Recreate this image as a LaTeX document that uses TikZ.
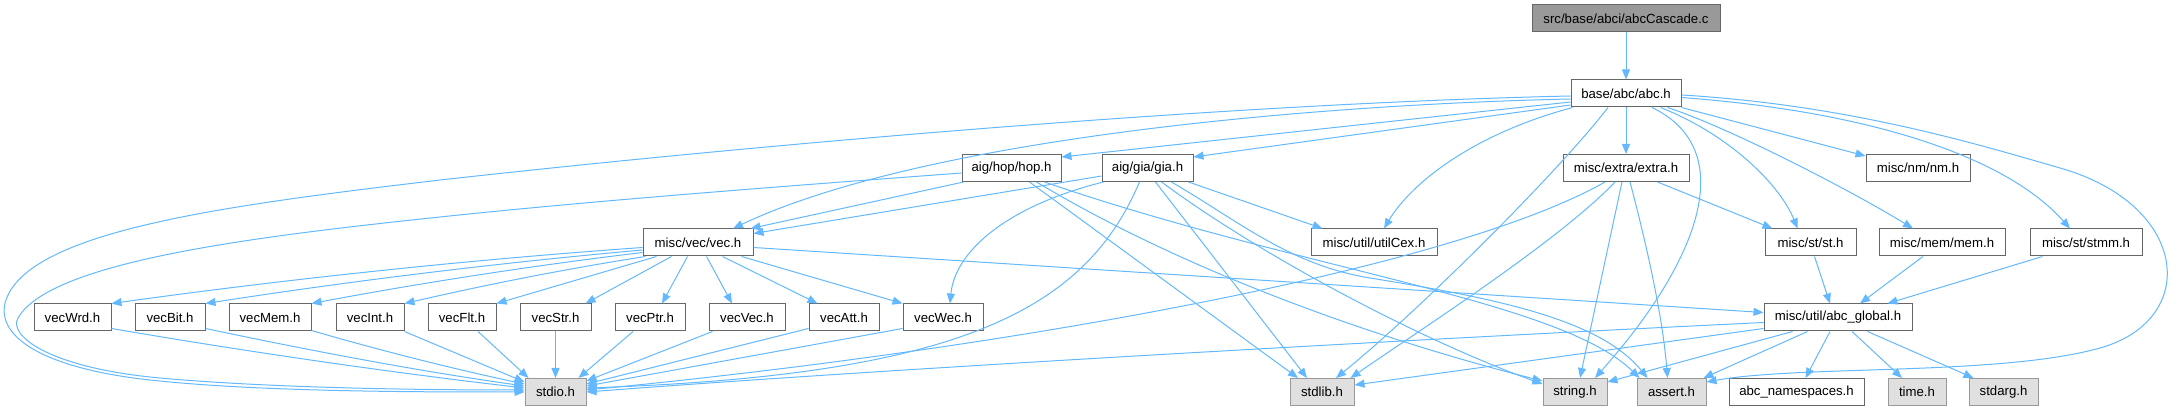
\documentclass[tikz,border=0pt]{standalone}
\usepackage{fontspec}
\setmainfont{Liberation Sans}
\usetikzlibrary{arrows.meta,calc}
\definecolor{eblue}{HTML}{63B8FF}
\definecolor{nbord}{HTML}{666666}
\definecolor{sbord}{HTML}{999999}
\definecolor{sfill}{HTML}{E0E0E0}
\definecolor{rfill}{HTML}{999999}
\begin{document}
\begin{tikzpicture}[x=1pt,y=-1pt,
  nd/.style={draw=nbord, fill=white, line width=1pt, minimum height=27pt, inner sep=0pt, font=\fontsize{13.2}{15}\selectfont, text=black},
  sysnd/.style={nd, draw=sbord, fill=sfill},
  rootnd/.style={nd, fill=rfill},
  dep/.style={draw=eblue, line width=1pt, -{Triangle[length=10pt,width=8pt]}}]
\useasboundingbox (0,0) rectangle (2179,411);
% row 1
\node[rootnd, minimum width=188pt] (top) at (1626,18.5) {src/base/abci/abcCascade.c};
% row 2
\node[nd, minimum width=110pt] (abc) at (1626,93.5) {base/abc/abc.h};
% row 3
\node[nd, minimum width=99pt] (hop) at (1011.5,168) {aig/hop/hop.h};
\node[nd, minimum width=91pt] (gia) at (1147.5,168) {aig/gia/gia.h};
\node[nd, minimum width=126pt] (extra) at (1626,168) {misc/extra/extra.h};
\node[nd, minimum width=104pt] (nm) at (1918,168) {misc/nm/nm.h};
% row 4
\node[nd, minimum width=110pt] (vec) at (698,242.5) {misc/vec/vec.h};
\node[nd, minimum width=126pt] (utilCex) at (1374,242.5) {misc/util/utilCex.h};
\node[nd, minimum width=91pt] (st) at (1810.5,242.5) {misc/st/st.h};
\node[nd, minimum width=126pt] (mem) at (1942,242.5) {misc/mem/mem.h};
\node[nd, minimum width=112pt] (stmm) at (2086,242.5) {misc/st/stmm.h};
% row 5
\node[nd, minimum width=77pt] (vecWrd) at (72.5,317.5) {vecWrd.h};
\node[nd, minimum width=70pt] (vecBit) at (170,317.5) {vecBit.h};
\node[nd, minimum width=82pt] (vecMem) at (270,317.5) {vecMem.h};
\node[nd, minimum width=68pt] (vecInt) at (370,317.5) {vecInt.h};
\node[nd, minimum width=68pt] (vecFlt) at (462,317.5) {vecFlt.h};
\node[nd, minimum width=71pt] (vecStr) at (555.5,317.5) {vecStr.h};
\node[nd, minimum width=70pt] (vecPtr) at (650,317.5) {vecPtr.h};
\node[nd, minimum width=76pt] (vecVec) at (747,317.5) {vecVec.h};
\node[nd, minimum width=70pt] (vecAtt) at (844,317.5) {vecAtt.h};
\node[nd, minimum width=80pt] (vecWec) at (943,317.5) {vecWec.h};
\node[nd, minimum width=148pt] (glob) at (1838,317.5) {misc/util/abc\_global.h};
% row 6
\node[sysnd, minimum width=61pt] (stdio) at (555.5,392) {stdio.h};
\node[sysnd, minimum width=64pt] (stdlib) at (1322,392) {stdlib.h};
\node[sysnd, minimum width=64pt] (string) at (1575,392) {string.h};
\node[sysnd, minimum width=69pt] (assert) at (1671.5,392) {assert.h};
\node[nd, minimum width=135pt] (ns) at (1796.5,392) {abc\_namespaces.h};
\node[sysnd, minimum width=58pt] (time) at (1917,392) {time.h};
\node[sysnd, minimum width=69pt] (stdarg) at (2003.5,392) {stdarg.h};

% edges
\draw[dep] (top) -- (abc);
\draw[dep] ($(abc.west)+(0,2.5)$) .. controls (1250,103) and (800,140) .. (440,180) .. controls (230,205) and (30,230) .. (6,300) .. controls (-6,335) and (40,368) .. (150,380) .. controls (260,392) and (420,392) .. (stdio.west);
\draw[dep] ($(hop.west)+(0,5)$) .. controls (800,185) and (600,200) .. (440,217) .. controls (250,237) and (50,262) .. (18,318) .. controls (8,336) and (50,368) .. (160,378) .. controls (270,388) and (420,390) .. ($(stdio.west)+(0,-2)$);
\draw[dep] ($(abc.west)+(0,5.5)$) .. controls (1300,105) and (920,140) .. ($(vec.north)+(35,0)$);
\draw[dep] ($(hop.south west)+(2,0)$) -- ($(vec.north east)+(-3,0)$);
\draw[dep] ($(gia.west)+(0,8)$) -- ($(vec.east)+(0,-9)$);
\draw[dep] ($(abc.west)+(0,8.5)$) -- ($(hop.north east)+(0,3)$);
\draw[dep] ($(abc.west)+(0,11.5)$) -- ($(gia.north east)+(0,3)$);
\draw[dep] ($(abc.south west)+(2,0)$) .. controls (1470,135) and (1410,185) .. ($(utilCex.north)+(10,0)$);
\draw[dep] ($(abc.south)+(-18,0)$) .. controls (1560,170) and (1420,310) .. ($(stdlib.north)+(14,0)$);
\draw[dep] (abc) -- (extra);
\draw[dep] ($(abc.south)+(26,0)$) .. controls (1740,150) and (1700,260) .. ($(string.north)+(20,0)$);
\draw[dep] ($(abc.south east)+(-21,0)$) .. controls (1730,135) and (1780,185) .. ($(st.north)+(-13,0)$);
\draw[dep] ($(abc.south east)+(-14,0)$) .. controls (1730,128) and (1850,190) .. ($(mem.north)+(-29,0)$);
\draw[dep] (abc.south east) -- ($(nm.north west)+(0,2)$);
\draw[dep] ($(abc.east)+(0,4)$) .. controls (1850,110) and (2000,150) .. ($(stmm.north)+(-16,0)$);
\draw[dep] ($(abc.east)+(0,1.5)$) .. controls (1850,105) and (1980,145) .. (2060,168) .. controls (2190,205) and (2200,320) .. (2100,348) .. controls (2000,376) and (1800,365) .. ($(assert.east)+(0,-10)$);
% extra
\draw[dep] ($(extra.south)+(-21,0)$) .. controls (1450,270) and (1000,350) .. ($(stdio.east)+(0,-2)$);
\draw[dep] ($(extra.south)+(-11,0)$) .. controls (1560,240) and (1420,330) .. ($(stdlib.north east)+(-4,0)$);
\draw[dep] ($(extra.south)+(-4,0)$) -- ($(string.north)+(5,0)$);
\draw[dep] ($(extra.south)+(4,0)$) .. controls (1648,250) and (1663,320) .. ($(assert.north)+(-4,0)$);
\draw[dep] ($(extra.south east)+(-32,0)$) -- ($(st.north west)+(8,0)$);
% gia
\draw[dep] ($(gia.south)+(-8,0)$) .. controls (1085,310) and (960,375) .. ($(stdio.east)+(0,-4)$);
\draw[dep] ($(gia.south west)+(2,0)$) .. controls (1010,205) and (955,250) .. ($(vecWec.north)+(7,0)$);
\draw[dep] ($(gia.south)+(8,0)$) -- ($(stdlib.north)+(-15,0)$);
\draw[dep] ($(gia.south)+(14,0)$) .. controls (1260,255) and (1420,340) .. ($(string.west)+(0,-8)$);
\draw[dep] ($(gia.south)+(24,0)$) .. controls (1240,222) and (1290,265) .. (1370,278) .. controls (1500,299) and (1600,320) .. ($(assert.north west)+(11,0)$);
\draw[dep] ($(gia.south east)+(-5,0)$) -- ($(utilCex.north west)+(12,0)$);
% hop
\draw[dep] ($(hop.south)+(18,0)$) -- ($(stdlib.north)+(-24,0)$);
\draw[dep] ($(hop.south)+(25,0)$) .. controls (1200,280) and (1400,345) .. ($(string.west)+(0,-11)$);
\draw[dep] ($(hop.south)+(33,0)$) .. controls (1300,270) and (1560,300) .. ($(assert.north west)+(3,0)$);
% vec
\draw[dep] ($(vec.west)+(0,5)$) .. controls (466,260) and (288,279) .. (vecWrd.north east);
\draw[dep] ($(vec.west)+(0,7.5)$) .. controls (497,263) and (351,281) .. (vecBit.north east);
\draw[dep] ($(vec.west)+(0,10)$) .. controls (532,265.7) and (422,282.8) .. (vecMem.north east);
\draw[dep] ($(vec.south west)+(3,0)$) .. controls (565,269) and (485,285) .. (vecInt.north east);
\draw[dep] ($(vec.south west)+(14,0)$) -- (vecFlt.north east);
\draw[dep] ($(vec.south west)+(29,0)$) -- ($(vecStr.north east)+(-6,0)$);
\draw[dep] ($(vec.south west)+(45,0)$) -- ($(vecPtr.north)+(12,0)$);
\draw[dep] ($(vec.south west)+(64,0)$) -- ($(vecVec.north)+(-15,0)$);
\draw[dep] ($(vec.south west)+(80,0)$) -- ($(vecAtt.north west)+(9,0)$);
\draw[dep] ($(vec.south west)+(99,0)$) -- (vecWec.north west);
\draw[dep] ($(vec.east)+(0,5)$) -- ($(glob.west)+(0,-5)$);
% vecX -> stdio
\draw[dep] ($(vecWrd.south east)+(0,-3)$) .. controls (249,352) and (387,372) .. ($(stdio.west)+(0,-4)$);
\draw[dep] ($(vecBit.south east)+(0,-3)$) .. controls (312,351) and (418,371) .. ($(stdio.west)+(0,-6)$);
\draw[dep] ($(vecMem.south east)+(0,-1)$) .. controls (382,351) and (454,369) .. ($(stdio.west)+(0,-8)$);
\draw[dep] ($(vecInt.south east)+(0,0)$) -- ($(stdio.west)+(0,-10)$);
\draw[dep] ($(vecFlt.south)+(16,0)$) -- ($(stdio.north west)+(4,0)$);
\draw[dep] (vecStr) -- (stdio);
\draw[dep] ($(vecPtr.south)+(-17,0)$) -- ($(stdio.north east)+(-8,0)$);
\draw[dep] ($(vecVec.south west)+(4,0)$) -- ($(stdio.east)+(0,-11)$);
\draw[dep] ($(vecAtt.south west)+(0,-3)$) -- ($(stdio.east)+(0,-8)$);
\draw[dep] ($(vecWec.south west)+(0,-3)$) -- ($(stdio.east)+(0,-6)$);
% abc_global
\draw[dep] ($(glob.west)+(0,5)$) .. controls (1400,340) and (900,368) .. (stdio.east);
\draw[dep] ($(glob.south west)+(0,-3)$) -- ($(stdlib.east)+(0,-7)$);
\draw[dep] ($(glob.south west)+(29,0)$) -- ($(string.east)+(0,-10)$);
\draw[dep] ($(glob.south west)+(44,0)$) -- ($(assert.north east)+(-3,0)$);
\draw[dep] ($(glob.south)+(-8,0)$) -- ($(ns.north)+(9,0)$);
\draw[dep] ($(glob.south)+(14,0)$) -- ($(time.north)+(-15,0)$);
\draw[dep] ($(glob.south east)+(-45,0)$) -- ($(stdarg.north west)+(5,0)$);
% into abc_global
\draw[dep] ($(st.south)+(4,0)$) -- ($(glob.north)+(-8,0)$);
\draw[dep] ($(mem.south)+(-19,0)$) -- ($(glob.north)+(22,0)$);
\draw[dep] ($(stmm.south west)+(13,0)$) -- ($(glob.north east)+(-25,0)$);
\end{tikzpicture}
\end{document}
